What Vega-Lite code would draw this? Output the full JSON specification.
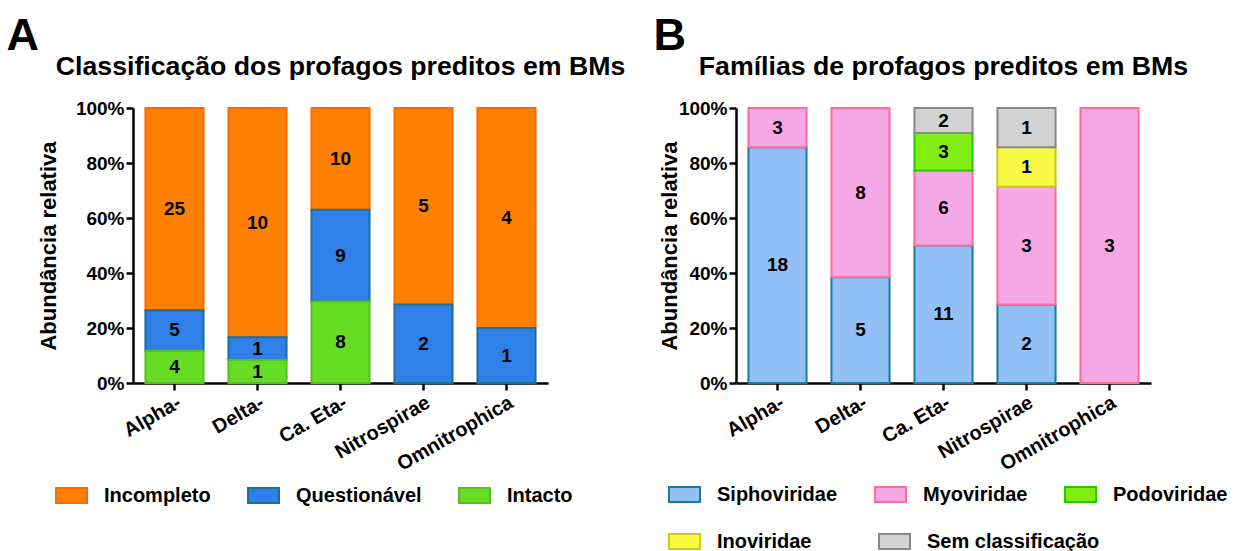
{
  "$schema": "https://vega.github.io/schema/vega-lite/v6.json",
  "padding": {"left": 6, "top": 14, "right": 2, "bottom": 2},
  "datasets": {
    "a": [
      {"grupo": "Alpha-", "classe": "Incompleto", "n": 25},
      {"grupo": "Alpha-", "classe": "Questionável", "n": 5},
      {"grupo": "Alpha-", "classe": "Intacto", "n": 4},
      {"grupo": "Delta-", "classe": "Incompleto", "n": 10},
      {"grupo": "Delta-", "classe": "Questionável", "n": 1},
      {"grupo": "Delta-", "classe": "Intacto", "n": 1},
      {"grupo": "Ca. Eta-", "classe": "Incompleto", "n": 10},
      {"grupo": "Ca. Eta-", "classe": "Questionável", "n": 9},
      {"grupo": "Ca. Eta-", "classe": "Intacto", "n": 8},
      {"grupo": "Nitrospirae", "classe": "Incompleto", "n": 5},
      {"grupo": "Nitrospirae", "classe": "Questionável", "n": 2},
      {"grupo": "Omnitrophica", "classe": "Incompleto", "n": 4},
      {"grupo": "Omnitrophica", "classe": "Questionável", "n": 1}
    ],
    "ordemA": [
      {"classe": "Intacto", "rank": 1},
      {"classe": "Questionável", "rank": 2},
      {"classe": "Incompleto", "rank": 3}
    ],
    "b": [
      {"grupo": "Alpha-", "familia": "Siphoviridae", "n": 18},
      {"grupo": "Alpha-", "familia": "Myoviridae", "n": 3},
      {"grupo": "Delta-", "familia": "Siphoviridae", "n": 5},
      {"grupo": "Delta-", "familia": "Myoviridae", "n": 8},
      {"grupo": "Ca. Eta-", "familia": "Siphoviridae", "n": 11},
      {"grupo": "Ca. Eta-", "familia": "Myoviridae", "n": 6},
      {"grupo": "Ca. Eta-", "familia": "Podoviridae", "n": 3},
      {"grupo": "Ca. Eta-", "familia": "Sem classificação", "n": 2},
      {"grupo": "Nitrospirae", "familia": "Siphoviridae", "n": 2},
      {"grupo": "Nitrospirae", "familia": "Myoviridae", "n": 3},
      {"grupo": "Nitrospirae", "familia": "Inoviridae", "n": 1},
      {"grupo": "Nitrospirae", "familia": "Sem classificação", "n": 1},
      {"grupo": "Omnitrophica", "familia": "Myoviridae", "n": 3}
    ],
    "ordemB": [
      {"familia": "Siphoviridae", "rank": 1},
      {"familia": "Myoviridae", "rank": 2},
      {"familia": "Podoviridae", "rank": 3},
      {"familia": "Inoviridae", "rank": 4},
      {"familia": "Sem classificação", "rank": 5}
    ]
  },
  "resolve": {
    "scale": {"fill": "independent", "stroke": "independent"},
    "legend": {"fill": "independent", "stroke": "independent"}
  },
  "hconcat": [
    {
      "title": {"text": "A", "anchor": "start", "fontSize": 45, "dx": -31, "offset": -5},
      "vconcat": [
        {
          "width": 415,
          "height": 275,
          "title": {"text": "Classificação dos profagos preditos em BMs", "fontSize": 26.7, "offset": 18},
          "data": {"name": "a"},
          "transform": [
            {"lookup": "classe", "from": {"data": {"name": "ordemA"}, "key": "classe", "fields": ["rank"]}},
            {"stack": "n", "groupby": ["grupo"], "sort": [{"field": "rank", "order": "ascending"}], "offset": "normalize", "as": ["y0", "y1"]}
          ],
          "layer": [
            {
              "mark": {"type": "bar", "strokeWidth": 2},
              "encoding": {
                "x": {"field": "grupo", "type": "nominal", "sort": ["Alpha-", "Delta-", "Ca. Eta-", "Nitrospirae", "Omnitrophica"], "scale": {"paddingInner": 0.3, "paddingOuter": 0.15}, "axis": {"title": null}},
                "y": {"field": "y0", "type": "quantitative", "scale": {"domain": [0, 1]}, "axis": {"title": "Abundância relativa", "format": ".0%", "values": [0, 0.2, 0.4, 0.6, 0.8, 1], "titlePadding": 15}},
                "y2": {"field": "y1"},
                "fill": {"field": "classe", "type": "nominal", "scale": {"domain": ["Incompleto", "Questionável", "Intacto"], "range": ["#FF7F00", "#2F80E8", "#66DD22"]}, "legend": {"orient": "none", "legendX": -78, "legendY": 371, "direction": "horizontal", "columns": 3, "columnPadding": 33, "title": null}},
                "stroke": {"field": "classe", "type": "nominal", "scale": {"domain": ["Incompleto", "Questionável", "Intacto"], "range": ["#FF6A00", "#1B6F9A", "#55C022"]}, "legend": {"orient": "none", "legendX": -78, "legendY": 371, "direction": "horizontal", "columns": 3, "columnPadding": 33, "title": null}}
              }
            },
            {
              "transform": [{"fold": ["y0", "y1"], "as": ["k", "v"]}],
              "mark": {"type": "text", "fontSize": 19, "fontWeight": "bold", "color": "black"},
              "encoding": {
                "x": {"field": "grupo", "type": "nominal", "sort": ["Alpha-", "Delta-", "Ca. Eta-", "Nitrospirae", "Omnitrophica"]},
                "y": {"field": "v", "aggregate": "mean", "type": "quantitative"},
                "detail": {"field": "classe"},
                "text": {"field": "n", "aggregate": "max", "type": "quantitative"}
              }
            }
          ]
        }
      ]
    },
    {
      "title": {"text": "B", "anchor": "start", "fontSize": 45, "dx": -5, "offset": -5},
      "vconcat": [
        {
          "width": 415,
          "height": 275,
          "title": {"text": "Famílias de profagos preditos em BMs", "fontSize": 26.7, "offset": 18},
          "data": {"name": "b"},
          "transform": [
            {"lookup": "familia", "from": {"data": {"name": "ordemB"}, "key": "familia", "fields": ["rank"]}},
            {"stack": "n", "groupby": ["grupo"], "sort": [{"field": "rank", "order": "ascending"}], "offset": "normalize", "as": ["y0", "y1"]}
          ],
          "resolve": {
            "scale": {"fill": "independent", "stroke": "independent"},
            "legend": {"fill": "independent", "stroke": "independent"}
          },
          "layer": [
            {
              "transform": [{"filter": {"field": "familia", "oneOf": ["Siphoviridae", "Myoviridae", "Podoviridae"]}}],
              "mark": {"type": "bar", "strokeWidth": 2},
              "encoding": {
                "x": {"field": "grupo", "type": "nominal", "sort": ["Alpha-", "Delta-", "Ca. Eta-", "Nitrospirae", "Omnitrophica"], "scale": {"paddingInner": 0.3, "paddingOuter": 0.15}, "axis": {"title": null}},
                "y": {"field": "y0", "type": "quantitative", "scale": {"domain": [0, 1]}, "axis": {"title": "Abundância relativa", "format": ".0%", "values": [0, 0.2, 0.4, 0.6, 0.8, 1], "titlePadding": -3}},
                "y2": {"field": "y1"},
                "fill": {"field": "familia", "type": "nominal", "scale": {"domain": ["Siphoviridae", "Myoviridae", "Podoviridae"], "range": ["#93C0F7", "#F5A8E6", "#80EE11"]}, "legend": {"orient": "none", "legendX": -68, "legendY": 370, "direction": "horizontal", "columns": 3, "columnPadding": 33, "title": null}},
                "stroke": {"field": "familia", "type": "nominal", "scale": {"domain": ["Siphoviridae", "Myoviridae", "Podoviridae"], "range": ["#1A7B96", "#FF6B9A", "#22CC00"]}, "legend": {"orient": "none", "legendX": -68, "legendY": 370, "direction": "horizontal", "columns": 3, "columnPadding": 33, "title": null}}
              }
            },
            {
              "transform": [{"filter": {"field": "familia", "oneOf": ["Inoviridae", "Sem classificação"]}}],
              "mark": {"type": "bar", "strokeWidth": 2},
              "encoding": {
                "x": {"field": "grupo", "type": "nominal", "sort": ["Alpha-", "Delta-", "Ca. Eta-", "Nitrospirae", "Omnitrophica"]},
                "y": {"field": "y0", "type": "quantitative"},
                "y2": {"field": "y1"},
                "fill": {"field": "familia", "type": "nominal", "scale": {"domain": ["Inoviridae", "Sem classificação"], "range": ["#F8F845", "#D3D3D3"]}, "legend": {"orient": "none", "legendX": -68, "legendY": 417, "direction": "horizontal", "columns": 3, "columnPadding": 63, "labelLimit": 300, "title": null}},
                "stroke": {"field": "familia", "type": "nominal", "scale": {"domain": ["Inoviridae", "Sem classificação"], "range": ["#CCCC11", "#888888"]}, "legend": {"orient": "none", "legendX": -68, "legendY": 417, "direction": "horizontal", "columns": 3, "columnPadding": 63, "labelLimit": 300, "title": null}}
              }
            },
            {
              "transform": [{"fold": ["y0", "y1"], "as": ["k", "v"]}],
              "mark": {"type": "text", "fontSize": 19, "fontWeight": "bold", "color": "black"},
              "encoding": {
                "x": {"field": "grupo", "type": "nominal", "sort": ["Alpha-", "Delta-", "Ca. Eta-", "Nitrospirae", "Omnitrophica"]},
                "y": {"field": "v", "aggregate": "mean", "type": "quantitative"},
                "detail": {"field": "familia"},
                "text": {"field": "n", "aggregate": "max", "type": "quantitative"}
              }
            }
          ]
        }
      ]
    }
  ],
  "spacing": 27,
  "config": {
    "font": "Liberation Sans",
    "view": {"stroke": null},
    "title": {"fontWeight": "bold", "color": "black", "font": "Liberation Sans"},
    "axis": {
      "domainColor": "black", "domainWidth": 2.5, "tickColor": "black", "tickWidth": 2.5, "tickSize": 7, "grid": false,
      "labelFont": "Liberation Sans", "labelFontSize": 19, "labelFontWeight": "bold", "labelColor": "black",
      "titleFont": "Liberation Sans", "titleFontSize": 22, "titleFontWeight": "bold", "titleColor": "black"
    },
    "axisX": {"labelFontSize": 20, "labelAngle": -30},
    "legend": {
      "symbolType": "M-1,-0.48H1V0.48H-1Z", "symbolSize": 961, "symbolStrokeWidth": 2,
      "labelFont": "Liberation Sans", "labelFontSize": 20, "labelFontWeight": "bold", "labelColor": "black",
      "labelOffset": 16, "labelLimit": 300, "symbolOpacity": 1
    }
  }
}
